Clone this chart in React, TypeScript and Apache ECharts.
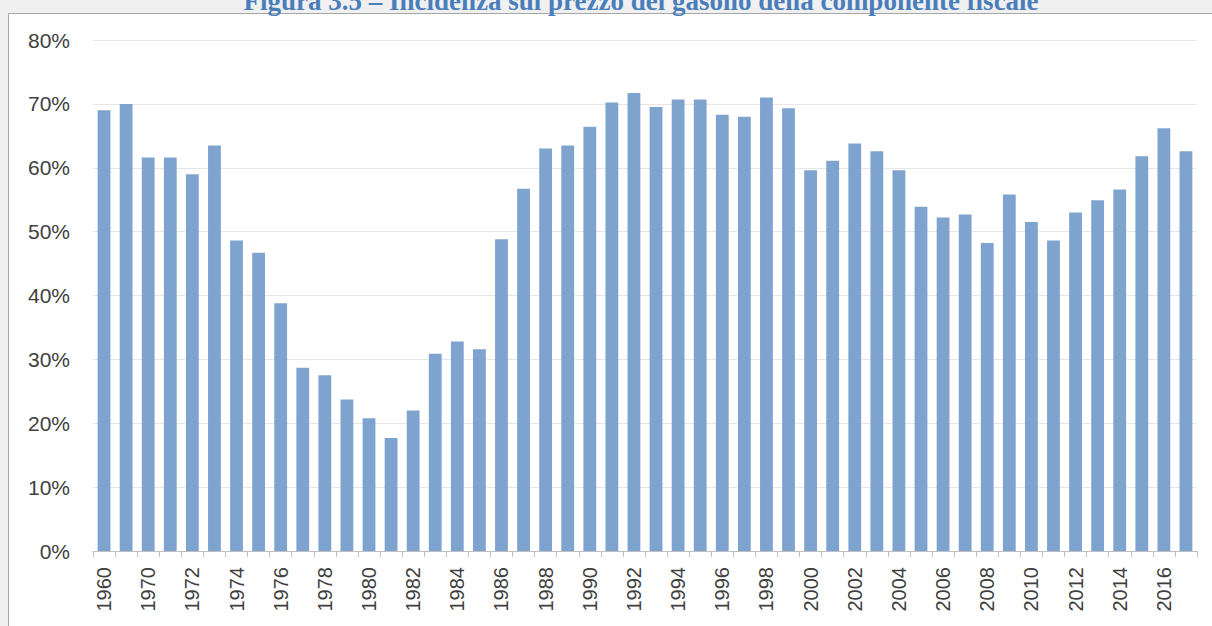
import React, { useEffect, useRef } from "react";
import * as echarts from "echarts";

const titleText = "Figura 3.5 – Incidenza sul prezzo del gasolio della componente fiscale";

const years = [
  "1960", "1965",
  "1970", "1971", "1972", "1973", "1974", "1975", "1976", "1977", "1978", "1979",
  "1980", "1981", "1982", "1983", "1984", "1985", "1986", "1987", "1988", "1989",
  "1990", "1991", "1992", "1993", "1994", "1995", "1996", "1997", "1998", "1999",
  "2000", "2001", "2002", "2003", "2004", "2005", "2006", "2007", "2008", "2009",
  "2010", "2011", "2012", "2013", "2014", "2015", "2016", "2017",
];

const incidence = [
  69.0, 70.0,
  61.6, 61.6, 59.0, 63.5, 48.6, 46.7, 38.8, 28.7, 27.5, 23.7,
  20.8, 17.7, 22.0, 30.9, 32.8, 31.6, 48.8, 56.7, 63.0, 63.5,
  66.4, 70.2, 71.7, 69.5, 70.7, 70.7, 68.3, 68.0, 71.0, 69.3,
  59.6, 61.1, 63.8, 62.6, 59.6, 53.9, 52.2, 52.7, 48.2, 55.8,
  51.5, 48.6, 53.0, 54.9, 56.6, 61.8, 66.2, 62.6,
];

const yTicks = { min: 0, max: 80, interval: 10 };

export default function App() {
  const ref = useRef<HTMLDivElement>(null);
  useEffect(() => {
    if (!ref.current) return;
    const chart = echarts.init(ref.current, null, { renderer: "svg" });
    chart.setOption({
      animation: false,
      backgroundColor: "#f0f0f0",
      graphic: [
        {
          type: "rect",
          z: -10,
          shape: { x: 8.5, y: 13.5, width: 1220, height: 640 },
          style: { fill: "#ffffff", stroke: "#a6a6a6", lineWidth: 1 },
        },
        {
          type: "text",
          z: 10,
          x: 641,
          y: 14,
          style: {
            text: titleText,
            fill: "#4a7ebb",
            font: "bold 27px 'Liberation Serif', 'DejaVu Serif', serif",
            textAlign: "center",
            textVerticalAlign: "bottom",
          },
        },
      ],
      grid: { left: 93, right: 15, top: 40, bottom: 75, containLabel: false },
      xAxis: {
        type: "category",
        data: years,
        axisLine: { show: true, lineStyle: { color: "#bfbfbf", width: 1 } },
        axisTick: {
          show: true,
          alignWithLabel: false,
          interval: 0,
          length: 6,
          lineStyle: { color: "#bfbfbf" },
        },
        axisLabel: {
          interval: 1,
          rotate: 90,
          margin: 16,
          color: "#404040",
          fontSize: 20,
          fontFamily: "'Liberation Sans', Arial, sans-serif",
        },
        splitLine: { show: false },
      },
      yAxis: {
        type: "value",
        min: yTicks.min,
        max: yTicks.max,
        interval: yTicks.interval,
        axisLine: { show: false },
        axisTick: { show: false },
        axisLabel: {
          formatter: "{value}%",
          margin: 23,
          color: "#404040",
          fontSize: 21,
          fontFamily: "'Liberation Sans', Arial, sans-serif",
        },
        splitLine: { show: true, lineStyle: { color: "#e6e6e6", width: 1 } },
      },
      series: [
        {
          type: "bar",
          data: incidence,
          barWidth: "58%",
          itemStyle: { color: "#7fa3cf" },
        },
      ],
    });
    return () => chart.dispose();
  }, []);
  return (
    <div
      ref={ref}
      style={{ position: "fixed", left: 0, top: 0, width: 1212, height: 626 }}
    />
  );
}
